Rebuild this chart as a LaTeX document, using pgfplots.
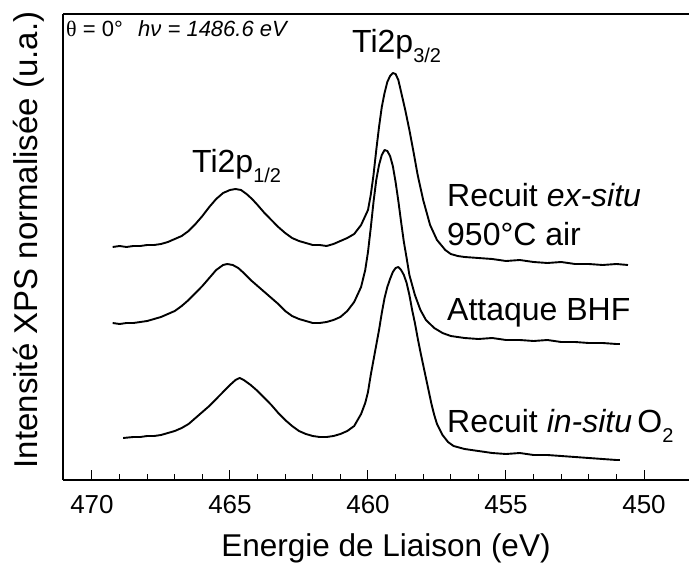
\documentclass[border=0pt]{standalone}
\usepackage{pgfplots}
\pgfplotsset{compat=1.18}
\usepackage{fontspec}
\setmainfont{Liberation Sans}
\newfontfamily\serif{Liberation Serif}
\begin{document}
\begin{tikzpicture}
\begin{axis}[
  at={(0pt,0pt)}, anchor=south west,
  scale only axis, width=626pt, height=466pt,
  axis x line*=box, axis y line*=left,
  x dir=reverse, xmin=448.37, xmax=471.05,
  y dir=reverse, ymin=14, ymax=480,
  xtick={450,455,...,470}, minor x tick num=4,
  ytick=\empty,
  xtick pos=bottom, tick align=inside,
  major tick length=10pt, minor tick length=6pt,
  every tick/.style={black, line width=1pt},
  axis line style={line width=1.2pt, -},
  /pgf/number format/assume math mode=true,
  xticklabel style={font=\fontsize{26}{26}\selectfont, yshift=-12pt},
  clip=false,
]
% Recuit ex-situ 950C air
\addplot[black, line width=1.9pt, line join=round] coordinates {
(469.25,247) (469.0,246) (468.75,247) (468.5,246) (468.25,246) (468.0,245) (467.75,245) (467.5,244) (467.25,242) (467.0,239)
(466.75,236) (466.5,231) (466.25,224) (466.0,216) (465.75,207) (465.5,199) (465.25,193) (465.0,190) (464.8,189) (464.6,190)
(464.4,194) (464.2,199) (464.0,205) (463.75,213) (463.5,220) (463.25,227) (463.0,233) (462.75,238) (462.5,241) (462.25,243)
(462.0,245) (461.75,245) (461.5,246) (461.25,244) (461.0,241) (460.75,238) (460.5,234) (460.25,225) (460.0,210) (459.9,195)
(459.8,175) (459.7,150) (459.6,127) (459.5,107) (459.4,93) (459.3,82) (459.2,76) (459.1,73) (459.0,74) (458.9,80)
(458.8,92) (458.65,110) (458.5,130) (458.35,152) (458.2,175) (458.0,200) (457.75,225) (457.5,240) (457.2,250) (457.0,254)
(456.75,256) (456.5,257) (456.0,258) (455.5,259) (455.0,261) (454.5,260) (454.0,262) (453.5,263) (453.0,262) (452.5,264)
(452.0,264) (451.5,265) (451.0,264) (450.58,265)
};
% Attaque BHF
\addplot[black, line width=1.9pt, line join=round] coordinates {
(469.25,323) (469.0,324) (468.75,323) (468.5,323) (468.25,322) (468.0,321) (467.75,319) (467.5,317) (467.25,314) (467.0,311)
(466.75,306) (466.5,300) (466.25,293) (466.0,286) (465.75,278) (465.5,270) (465.25,265) (465.1,264) (464.9,265) (464.7,268)
(464.5,273) (464.25,280) (464.0,286) (463.75,292) (463.5,298) (463.25,304) (463.0,311) (462.75,316) (462.5,319) (462.25,321)
(462.0,323) (461.75,323) (461.5,322) (461.25,320) (461.0,317) (460.75,311) (460.5,302) (460.25,287) (460.1,270) (460.0,252)
(459.9,228) (459.8,202) (459.7,180) (459.6,165) (459.5,155) (459.4,150) (459.3,151) (459.2,156) (459.1,166) (459.0,182)
(458.9,201) (458.8,222) (458.7,242) (458.6,258) (458.5,275) (458.3,295) (458.1,310) (457.9,320) (457.6,328) (457.3,333)
(457.0,336) (456.5,338) (456.0,339) (455.5,338) (455.0,340) (454.5,340) (454.0,341) (453.5,340) (453.0,342) (452.5,342)
(452.0,343) (451.5,343) (451.0,344) (450.87,344)
};
% Recuit in-situ O2
\addplot[black, line width=1.9pt, line join=round] coordinates {
(468.87,438) (468.5,437) (468.25,437) (468.0,436) (467.75,436) (467.5,435) (467.25,433) (467.0,431) (466.75,428) (466.5,424)
(466.25,418) (466.0,412) (465.75,406) (465.5,399) (465.25,392) (465.0,385) (464.8,380) (464.65,378) (464.5,380) (464.25,385)
(464.0,391) (463.75,398) (463.5,405) (463.25,413) (463.0,420) (462.75,426) (462.5,431) (462.25,434) (462.0,436) (461.75,437)
(461.5,437) (461.25,436) (461.0,434) (460.75,431) (460.5,426) (460.25,414) (460.1,403) (460.0,392) (459.9,375) (459.8,360)
(459.7,345) (459.6,330) (459.5,313) (459.4,298) (459.3,287) (459.2,279) (459.1,272) (459.0,268) (458.9,267) (458.8,270)
(458.7,275) (458.6,283) (458.5,295) (458.4,310) (458.3,323) (458.2,338) (458.1,352) (458.0,365) (457.9,378) (457.8,391)
(457.7,404) (457.6,415) (457.5,424) (457.3,435) (457.1,442) (456.9,446) (456.5,449) (456.0,451) (455.5,453) (455.0,454)
(454.5,453) (454.0,455) (453.5,455) (453.0,456) (452.5,457) (452.0,458) (451.5,459) (451.0,460) (450.87,460)
};
\end{axis}
% texts (picture coords: x = px-63, y = 480-py)
\node[anchor=west, inner sep=0pt] at (3pt,451pt) {\fontsize{22}{22}\selectfont{\serif θ} = 0°\hspace{0.7em}\textit{hν = 1486.6 eV}};
\node[anchor=base west, inner sep=0pt] at (289pt,427pt) {\fontsize{32}{32}\selectfont Ti2p\raisebox{-0.3em}{\fontsize{20}{20}\selectfont 3/2}};
\node[anchor=base west, inner sep=0pt] at (129pt,307pt) {\fontsize{32}{32}\selectfont Ti2p\raisebox{-0.3em}{\fontsize{20}{20}\selectfont 1/2}};
\node[anchor=base west, inner sep=0pt] at (384pt,273pt) {\fontsize{32}{32}\selectfont Recuit \textit{ex-situ}};
\node[anchor=base west, inner sep=0pt] at (384pt,234pt) {\fontsize{32}{32}\selectfont 950°C air};
\node[anchor=base west, inner sep=0pt] at (384pt,159pt) {\fontsize{32}{32}\selectfont Attaque BHF};
\node[anchor=base west, inner sep=0pt] at (384pt,47pt) {\fontsize{32}{32}\selectfont Recuit \textit{in-situ}\,O\raisebox{-0.3em}{\fontsize{20}{20}\selectfont 2}};
\node[anchor=base, inner sep=0pt] at (323pt,-77pt) {\fontsize{31.5}{31.5}\selectfont Energie de Liaison (eV)};
\node[rotate=90, anchor=center, inner sep=0pt] at (-34pt,240pt) {\fontsize{33}{33}\selectfont Intensité XPS normalisée (u.a.)};
\pgfresetboundingbox
\useasboundingbox (-63pt,-87pt) rectangle (626pt,480pt);
\end{tikzpicture}
\end{document}
